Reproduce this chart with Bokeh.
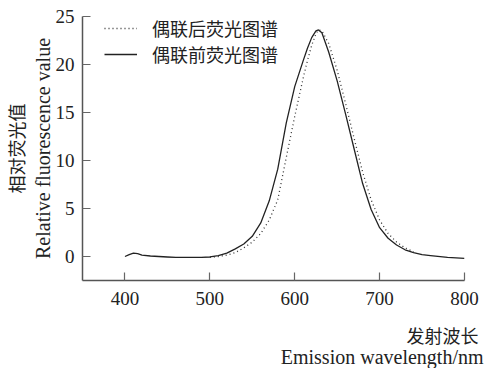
from bokeh.plotting import figure
from bokeh.models import Range1d, Legend, LegendItem, FixedTicker, Title
from bokeh.embed import file_html
from bokeh.resources import INLINE

# Before coupling (solid)
wl_before = [400, 405, 410, 415, 420, 430, 440, 450, 460, 470, 480, 490, 500,
             510, 520, 530, 540, 550, 560, 570, 580, 590, 600, 610, 615, 620,
             625, 628, 632, 640, 650, 660, 670, 680, 690, 700, 710, 720, 730,
             740, 750, 760, 780, 800]
val_before = [0.0, 0.2, 0.35, 0.3, 0.15, 0.05, 0.0, -0.05, -0.1, -0.1, -0.1, -0.1, -0.05,
              0.1, 0.35, 0.8, 1.3, 2.1, 3.5, 5.8, 9.1, 13.9, 17.7, 20.4, 21.7, 22.8,
              23.5, 23.6, 23.3, 21.3, 18.3, 14.8, 11.2, 7.6, 4.9, 3.0, 1.9, 1.2, 0.7,
              0.4, 0.2, 0.1, -0.1, -0.2]

# After coupling (dotted)
wl_after = [500, 510, 520, 530, 540, 550, 560, 570, 580, 590, 600, 610, 615, 620,
            625, 628, 632, 640, 650, 660, 670, 680, 690, 700, 710, 720, 730, 740]
val_after = [-0.1, 0.0, 0.15, 0.4, 0.9, 1.5, 2.4, 3.8, 5.9, 10.3, 14.6, 18.6, 20.4, 22.0,
             23.2, 23.6, 23.5, 22.2, 19.4, 15.9, 12.3, 8.8, 5.9, 3.8, 2.4, 1.5, 0.9, 0.5]

x_ticks = [400, 500, 600, 700, 800]
y_ticks = [0, 5, 10, 15, 20, 25]

legend_after = "偶联后荧光图谱"
legend_before = "偶联前荧光图谱"
y_label_cn = "相对荧光值"
y_label_en = "Relative fluorescence value"
x_label_cn = "发射波长"
x_label_en = "Emission wavelength/nm"

SERIF = "Liberation Serif"
CJK = "Noto Sans CJK SC"
INK = "#222222"

p = figure(width=486, height=368, output_backend="svg", toolbar_location=None,
           x_range=Range1d(350, 800), y_range=Range1d(-2.5, 25),
           min_border_left=80, min_border_right=22, min_border_top=16,
           min_border_bottom=88)
p.outline_line_color = None
p.grid.visible = False

r_after = p.line(wl_after, val_after, line_color="#333333", line_width=1.3,
                 line_dash="1 3")
r_before = p.line(wl_before, val_before, line_color=INK, line_width=1.3)

for ax in (p.xaxis[0], p.yaxis[0]):
    ax.axis_line_color = "#555555"
    ax.axis_line_width = 1.5
    ax.major_tick_line_color = "#666666"
    ax.major_tick_line_width = 1.2
    ax.major_tick_in = 8
    ax.major_tick_out = 0
    ax.minor_tick_line_color = None
    ax.major_label_text_font = SERIF
    ax.major_label_text_font_size = "19px"
    ax.major_label_text_color = INK

p.xaxis[0].ticker = FixedTicker(ticks=x_ticks)
p.yaxis[0].ticker = FixedTicker(ticks=y_ticks)
p.xaxis[0].major_label_standoff = 11
p.yaxis[0].major_label_standoff = 8

p.yaxis[0].axis_label = y_label_en
p.yaxis[0].axis_label_text_font = SERIF
p.yaxis[0].axis_label_text_font_size = "20px"
p.yaxis[0].axis_label_text_font_style = "normal"
p.yaxis[0].axis_label_text_color = INK
p.yaxis[0].axis_label_standoff = -1

p.add_layout(Title(text=y_label_cn, align="center", text_font=CJK,
                   text_font_size="18px", text_font_style="normal",
                   text_color=INK, standoff=0, offset=0), "left")

p.add_layout(Title(text=x_label_cn, align="right", text_font=CJK,
                   text_font_size="18px", text_font_style="normal",
                   text_color=INK, standoff=25, offset=-14), "below")
p.add_layout(Title(text=x_label_en, align="right", text_font=SERIF,
                   text_font_size="20px", text_font_style="normal",
                   text_color=INK, standoff=-30, offset=-19,
                   vertical_align="top"), "below")

legend = Legend(items=[LegendItem(label=legend_after, renderers=[r_after]),
                       LegendItem(label=legend_before, renderers=[r_before])],
                location=(22, 213), padding=0, margin=0, spacing=0,
                glyph_width=33, glyph_height=20, label_height=20,
                label_standoff=15, border_line_alpha=0, background_fill_alpha=0,
                label_text_font=CJK, label_text_font_size="18px",
                label_text_color=INK)
p.add_layout(legend)

open("out.html", "w").write(file_html(p, INLINE))
